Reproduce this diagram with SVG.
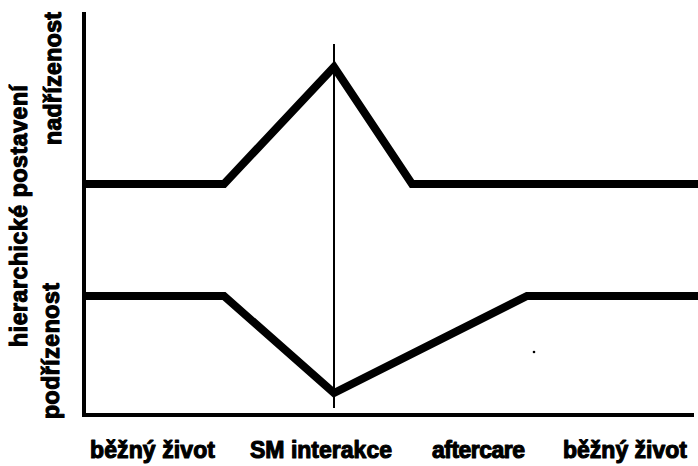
<svg xmlns="http://www.w3.org/2000/svg" width="698" height="466" viewBox="0 0 698 466">
<style>
.axis{stroke:#000;stroke-width:4;fill:none;stroke-linecap:square}
.curve{stroke:#000;stroke-width:8;fill:none;stroke-linejoin:miter}
.thin{stroke:#000;stroke-width:2;fill:none}
.lbl{font-family:"Liberation Sans",Arial,sans-serif;font-weight:bold;font-size:23px;fill:#000;stroke:#000;stroke-width:1.1;stroke-linejoin:round}
</style>
<rect width="698" height="466" fill="#fff"/>
<g id="axes">
<path class="axis" d="M84,14 V415 H692"/>
</g>
<g id="connectors">
<path id="upper" class="curve" d="M84,184 H224 L334,67 L412,184 H698"/>
<path id="lower" class="curve" d="M84,296 H224 L334,393 L527,296 H698"/>
<line id="divider" class="thin" x1="334" y1="44" x2="334" y2="408"/>
<circle cx="534" cy="352" r="1.3" fill="#000"/>
</g>
<g id="ylabels">
<text class="lbl" transform="translate(27,347) rotate(-90)" textLength="262" lengthAdjust="spacing">hierarchické postavení</text>
<text class="lbl" transform="translate(61,145) rotate(-90)" textLength="133" lengthAdjust="spacing">nadřízenost</text>
<text class="lbl" transform="translate(59,419) rotate(-90)" textLength="136" lengthAdjust="spacing">podřízenost</text>
</g>
<g id="xlabels">
<text class="lbl" x="90" y="458" textLength="125" lengthAdjust="spacing">běžný život</text>
<text class="lbl" x="250" y="458" textLength="142" lengthAdjust="spacing">SM interakce</text>
<text class="lbl" x="432" y="458" textLength="93" lengthAdjust="spacing">aftercare</text>
<text class="lbl" x="563" y="458" textLength="124" lengthAdjust="spacing">běžný život</text>
</g>
</svg>
